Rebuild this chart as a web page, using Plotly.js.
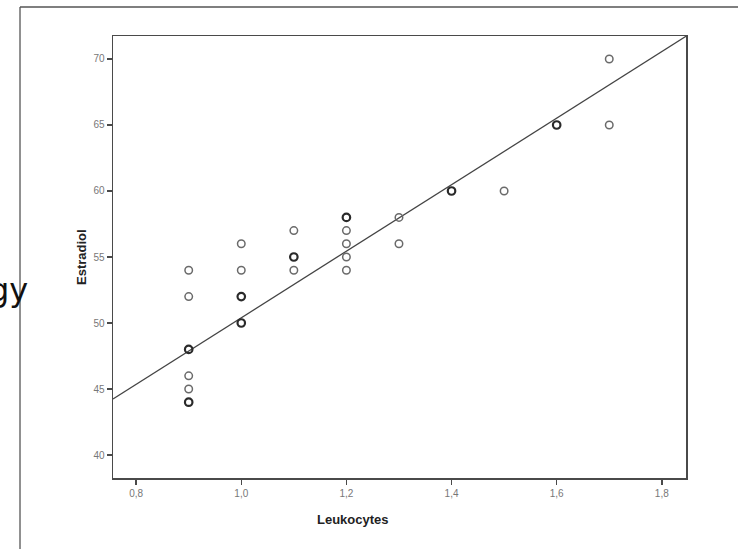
<!DOCTYPE html>
<html>
<head>
<meta charset="utf-8">
<script src="https://cdn.plot.ly/plotly-3.0.1.min.js"></script>
<style>html,body{margin:0;padding:0;background:#fff;}</style>
</head>
<body>
<div id="chart" style="width:738px;height:549px;"></div>
<script>
// Data (Leukocytes vs Estradiol)
const leukocytes = [0.9,0.9,0.9,0.9,0.9,0.9, 1.0,1.0,1.0,1.0, 1.1,1.1,1.1, 1.2,1.2,1.2,1.2,1.2, 1.3,1.3, 1.4, 1.5, 1.6, 1.7,1.7];
const estradiol  = [54,52,48,46,45,44, 56,54,52,50, 57,55,54, 58,57,56,55,54, 58,56, 60, 60, 65, 70,65];
const overlap    = [1,1,2,1,1,2, 1,1,2,2, 1,2,1, 2,1,1,1,1, 1,1, 2, 1, 2, 1,1];

const xTickVals = [0.8,1.0,1.2,1.4,1.6,1.8];
const xTickText = ["0,8","1,0","1,2","1,4","1,6","1,8"];
const yTickVals = [40,45,50,55,60,65,70];
const yTickText = ["40","45","50","55","60","65","70"];

const fitIntercept = 25.2;
const fitSlope = 25.2;

const xRange = [0.756, 1.846];
const yRange = [38.26, 71.74];

const single = {x:[],y:[]}, multi = {x:[],y:[]};
leukocytes.forEach((xv,i)=>{ const t = overlap[i]>1?multi:single; t.x.push(xv); t.y.push(estradiol[i]); });

const traces = [
  {x:xRange, y:xRange.map(v=>fitIntercept+fitSlope*v), mode:'lines', line:{color:'#444',width:1.3}, hoverinfo:'skip', showlegend:false},
  {x:single.x, y:single.y, mode:'markers', type:'scatter', showlegend:false,
   marker:{symbol:'circle-open', size:7.5, color:'#6a6a6a', line:{width:1.5}}},
  {x:multi.x, y:multi.y, mode:'markers', type:'scatter', showlegend:false,
   marker:{symbol:'circle-open', size:7.5, color:'#2a2a2a', line:{width:2.2}}}
];

const L=113, R=686, T=36, B=478, W=738, H=549;
const px = v => (v-L)/(R-L);
const py = v => (B-v)/(B-T);

const layout = {
  width:W, height:H,
  margin:{l:L, r:W-R, t:T, b:H-B, pad:0},
  paper_bgcolor:'#fff', plot_bgcolor:'#fff',
  font:{family:'Liberation Sans, Arial, sans-serif'},
  xaxis:{range:xRange, tickvals:xTickVals, ticktext:xTickText, showgrid:false, zeroline:false,
    showline:true, mirror:true, linecolor:'#4a4a4a', linewidth:1.5,
    ticks:'outside', ticklen:5, tickwidth:1.5, tickcolor:'#4a4a4a',
    tickfont:{size:10, color:'#777'}},
  yaxis:{range:yRange, tickvals:yTickVals, ticktext:yTickText, showgrid:false, zeroline:false,
    showline:true, mirror:true, linecolor:'#4a4a4a', linewidth:1.5,
    ticks:'outside', ticklen:5, tickwidth:1.5, tickcolor:'#4a4a4a',
    tickfont:{size:10, color:'#777'}},
  shapes:[
    {type:'line', xref:'paper', yref:'paper', x0:px(20), x1:px(20), y0:py(7), y1:py(549), line:{color:'#222', width:1}},
    {type:'line', xref:'paper', yref:'paper', x0:px(20), x1:px(738), y0:py(7), y1:py(7), line:{color:'#555', width:1.3}}
  ],
  annotations:[
    {text:'gy', xref:'paper', yref:'paper', x:px(30), y:py(290), xanchor:'right', yanchor:'middle',
     showarrow:false, font:{family:'DejaVu Sans, sans-serif', size:32, color:'#111'}},
    {text:'<b>Leukocytes</b>', xref:'paper', yref:'paper', x:px(353), y:py(519), xanchor:'center', yanchor:'middle',
     showarrow:false, font:{size:13, color:'#222'}},
    {text:'<b>Estradiol</b>', xref:'paper', yref:'paper', x:px(81), y:py(257), xanchor:'center', yanchor:'middle',
     textangle:-90, showarrow:false, font:{size:13, color:'#222'}}
  ]
};

Plotly.newPlot('chart', traces, layout, {displayModeBar:false, staticPlot:true});
</script>
</body>
</html>
